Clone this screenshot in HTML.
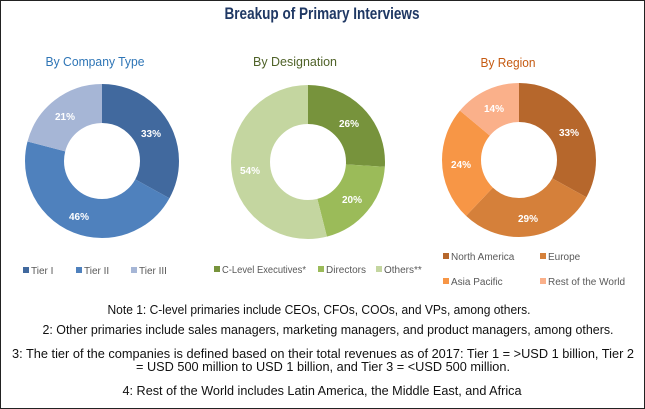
<!DOCTYPE html>
<html><head><meta charset="utf-8"><style>
body{margin:0;background:#fff}
svg{display:block}
text{font-family:"Liberation Sans Narrow","Liberation Sans",sans-serif}
</style></head><body>
<svg width="645" height="409" viewBox="0 0 645 409" xmlns="http://www.w3.org/2000/svg">
<rect x="0.5" y="0.5" width="644" height="408" fill="#fff" stroke="#222" stroke-width="1"/>
<text x="322" y="19" text-anchor="middle" font-size="17" font-weight="bold" fill="#1f3864" textLength="195" lengthAdjust="spacingAndGlyphs">Breakup of Primary Interviews</text>
<text x="95" y="66" text-anchor="middle" font-size="13" fill="#2e75b6" textLength="99" lengthAdjust="spacingAndGlyphs">By Company Type</text>
<text x="295" y="66" text-anchor="middle" font-size="13" fill="#4f6228" textLength="84" lengthAdjust="spacingAndGlyphs">By Designation</text>
<text x="508" y="67" text-anchor="middle" font-size="13" fill="#c55a11" textLength="55" lengthAdjust="spacingAndGlyphs">By Region</text>
<g fill="none" stroke-width="39">
<g transform="translate(102,161) rotate(-90)">
<circle r="57.5" stroke="#41699e" stroke-dasharray="119.2 361.3"/>
<circle r="57.5" stroke="#4f81bd" stroke-dasharray="0 119.2 166.2 361.3"/>
<circle r="57.5" stroke="#a6b6d6" stroke-dasharray="0 285.4 75.9 361.3"/>
</g>
<g transform="translate(308,162) rotate(-90)">
<circle r="57.5" stroke="#77933c" stroke-dasharray="93.9 361.3"/>
<circle r="57.5" stroke="#9bbb59" stroke-dasharray="0 93.9 72.3 361.3"/>
<circle r="57.5" stroke="#c4d6a0" stroke-dasharray="0 166.2 195.1 361.3"/>
</g>
<g transform="translate(519,160) rotate(-90)">
<circle r="57.5" stroke="#b6672c" stroke-dasharray="119.2 361.3"/>
<circle r="57.5" stroke="#d5803a" stroke-dasharray="0 119.2 104.8 361.3"/>
<circle r="57.5" stroke="#f79646" stroke-dasharray="0 224 86.7 361.3"/>
<circle r="57.5" stroke="#fab08a" stroke-dasharray="0 310.7 50.6 361.3"/>
</g>
</g>
<g fill="#fff" font-size="10" font-weight="bold" text-anchor="middle">
<text x="151" y="137">33%</text><text x="79" y="220">46%</text><text x="65" y="120">21%</text>
<text x="349" y="127">26%</text><text x="352" y="203">20%</text><text x="250" y="174">54%</text>
<text x="569" y="136">33%</text><text x="528" y="222">29%</text><text x="461" y="168">24%</text><text x="494" y="112">14%</text>
</g>
<g font-size="10" fill="#595959">
<rect x="23" y="267" width="6" height="6" fill="#41699e"/><text x="31" y="274">Tier I</text>
<rect x="76" y="267" width="6" height="6" fill="#4f81bd"/><text x="84" y="274">Tier II</text>
<rect x="131" y="267" width="6" height="6" fill="#a6b6d6"/><text x="139" y="274">Tier III</text>
<rect x="214" y="266" width="6" height="6" fill="#77933c"/><text x="222" y="273" textLength="84" lengthAdjust="spacingAndGlyphs">C-Level Executives*</text>
<rect x="318" y="266" width="6" height="6" fill="#9bbb59"/><text x="326" y="273">Directors</text>
<rect x="376" y="266" width="6" height="6" fill="#c4d6a0"/><text x="384" y="273">Others**</text>
<rect x="443" y="253" width="6" height="6" fill="#b6672c"/><text x="451" y="260">North America</text>
<rect x="540" y="253" width="6" height="6" fill="#d5803a"/><text x="548" y="260">Europe</text>
<rect x="443" y="278" width="6" height="6" fill="#f79646"/><text x="451" y="285">Asia Pacific</text>
<rect x="540" y="278" width="6" height="6" fill="#fab08a"/><text x="548" y="285">Rest of the World</text>
</g>
<g font-size="12.5" fill="#111" text-anchor="middle">
<text x="319" y="314" textLength="423" lengthAdjust="spacingAndGlyphs">Note 1: C-level primaries include CEOs, CFOs, COOs, and VPs, among others.</text>
<text x="328" y="334" textLength="571" lengthAdjust="spacingAndGlyphs">2: Other primaries include sales managers, marketing managers, and product managers, among others.</text>
<text x="323" y="358" textLength="622" lengthAdjust="spacingAndGlyphs">3: The tier of the companies is defined based on their total revenues as of 2017: Tier 1 = &gt;USD 1 billion, Tier 2</text>
<text x="323" y="371" textLength="374" lengthAdjust="spacingAndGlyphs">= USD 500 million to USD 1 billion, and Tier 3 = &lt;USD 500 million.</text>
<text x="322" y="395" textLength="399" lengthAdjust="spacingAndGlyphs">4: Rest of the World includes Latin America, the Middle East, and Africa</text>
</g>
</svg>
</body></html>
